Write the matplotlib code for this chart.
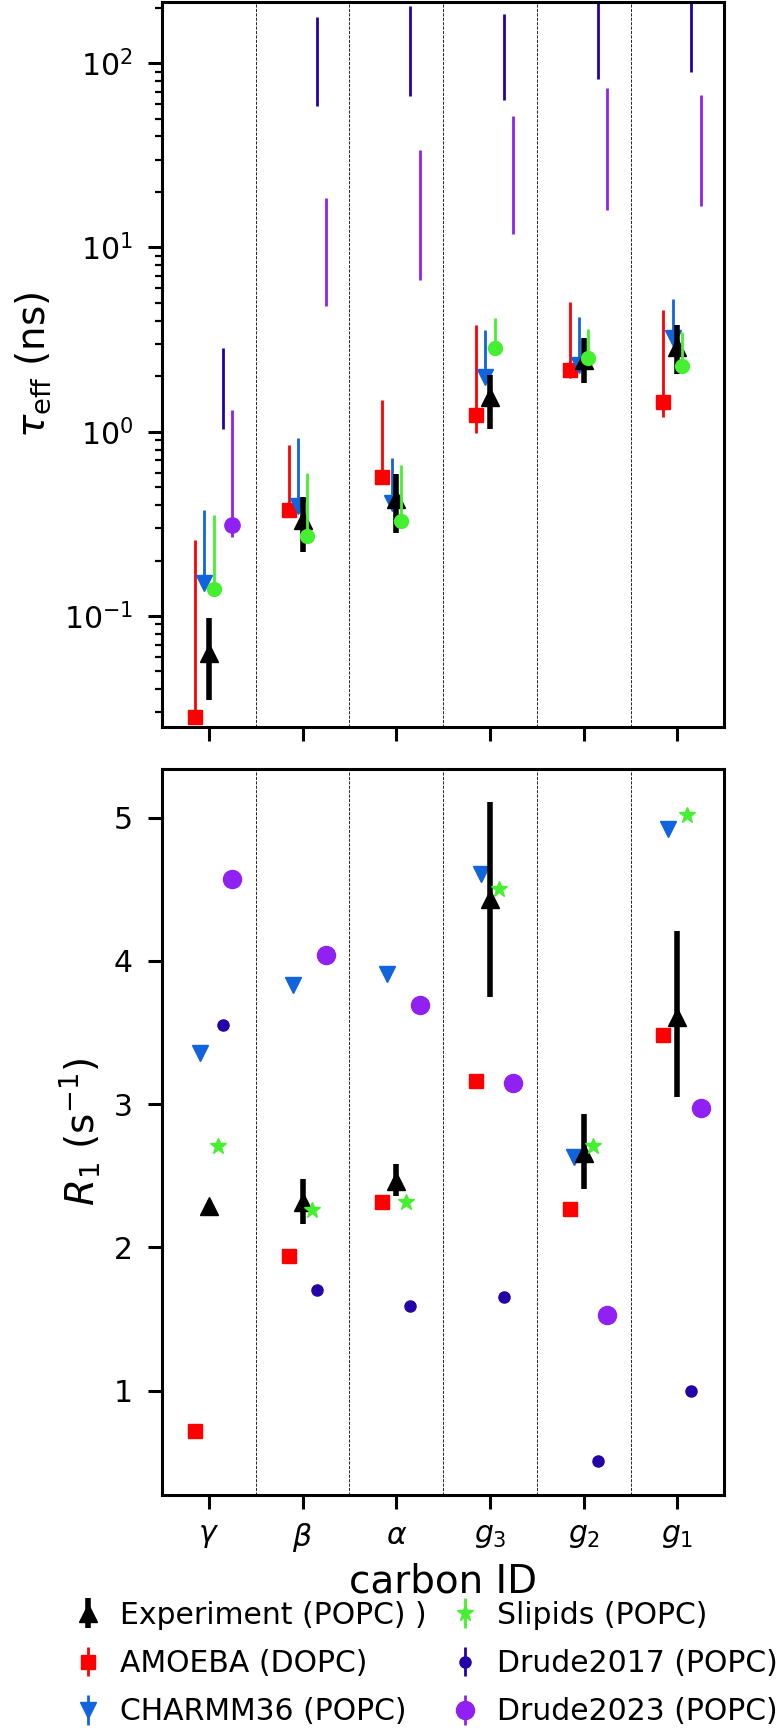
import numpy as np
import matplotlib
matplotlib.use("Agg")
import matplotlib.pyplot as plt

# carbon positions along the headgroup / glycerol backbone
CARBONS = [r"$\gamma$", r"$\beta$", r"$\alpha$", r"$g_3$", r"$g_2$", r"$g_1$"]

# ---- effective correlation times (ns): marker value, lower and upper end of bar
EXP_TAU = [0.063, 0.33, 0.43, 1.55, 2.45, 2.89]
EXP_TAU_LO = [0.035, 0.223, 0.281, 1.03, 1.83, 2.07]
EXP_TAU_HI = [0.097, 0.444, 0.589, 2.03, 3.21, 3.79]

AMOEBA_TAU = [0.0284, 0.376, 0.569, 1.23, 2.16, 1.45]
AMOEBA_TAU_LO = [0.0284, 0.36, 0.55, 0.986, 1.95, 1.20]
AMOEBA_TAU_HI = [0.258, 0.845, 1.48, 3.79, 5.07, 4.57]

CHARMM_TAU = [0.151, 0.394, 0.408, 1.99, 2.30, 3.21]
CHARMM_TAU_HI = [0.376, 0.927, 0.724, 3.56, 4.20, 5.24]

SLIPIDS_TAU = [0.141, 0.272, 0.329, 2.85, 2.52, 2.28]
SLIPIDS_TAU_HI = [0.352, 0.594, 0.659, 4.12, 3.63, 3.48]

DRUDE17_TAU_LO = [1.03, 58.4, 66.6, 63.0, 81.9, 89.0]
DRUDE17_TAU_HI = [2.85, 178.0, 204.0, 184.0, 250.0, 250.0]

DRUDE23_TAU = [0.311, np.nan, np.nan, np.nan, np.nan, np.nan]
DRUDE23_TAU_LO = [0.27, 4.80, 6.65, 11.8, 15.9, 16.8]
DRUDE23_TAU_HI = [1.31, 18.5, 34.0, 51.5, 72.9, 67.6]

# ---- spin-lattice relaxation rates R1 (1/s)
EXP_R1 = [2.29, 2.32, 2.46, 4.43, 2.66, 3.61]
EXP_R1_LO = [2.29, 2.16, 2.36, 3.75, 2.41, 3.05]
EXP_R1_HI = [2.29, 2.48, 2.58, 5.11, 2.93, 4.21]
AMOEBA_R1 = [0.72, 1.94, 2.32, 3.16, 2.27, 3.48]
CHARMM_R1 = [3.36, 3.83, 3.91, 4.61, 2.63, 4.92]
SLIPIDS_R1 = [2.71, 2.26, 2.32, 4.50, 2.71, 5.02]
DRUDE17_R1 = [3.55, 1.70, 1.59, 1.65, 0.51, 1.00]
DRUDE23_R1 = [4.57, 4.04, 3.69, 3.15, 1.53, 2.97]

RED = "#ff0000"
BLUE = "#1264dc"
GREEN = "#44f030"
DBLUE = "#2400a8"
PURPLE = "#9120f2"

FS = 21.5
plt.rcParams.update({
    "font.size": FS,
    "axes.linewidth": 2.2,
    "xtick.major.size": 10, "xtick.major.width": 2.2, "xtick.major.pad": 9,
    "ytick.major.size": 10, "ytick.major.width": 2.2, "ytick.major.pad": 11,
    "ytick.minor.size": 5, "ytick.minor.width": 1.6,
})

x = np.arange(len(CARBONS))

fig = plt.figure(figsize=(7.76, 17.28), dpi=100)
ax1 = fig.add_axes([0.2088, 0.5793, 0.7245, 0.4196])
ax2 = fig.add_axes([0.2088, 0.1348, 0.7245, 0.4201])


def asym(val, lo, hi):
    val, lo, hi = np.asarray(val), np.asarray(lo), np.asarray(hi)
    return [val - lo, hi - val]


# ---------------- top panel: tau_eff ----------------
ax1.errorbar(x, EXP_TAU, yerr=asym(EXP_TAU, EXP_TAU_LO, EXP_TAU_HI), fmt="^",
             color="k", ms=13, elinewidth=4, zorder=3)
ax1.errorbar(x - 0.15, AMOEBA_TAU, yerr=asym(AMOEBA_TAU, AMOEBA_TAU_LO, AMOEBA_TAU_HI),
             fmt="s", color=RED, ms=10, elinewidth=2)
ax1.errorbar(x - 0.05, CHARMM_TAU, yerr=asym(CHARMM_TAU, CHARMM_TAU, CHARMM_TAU_HI),
             fmt="v", color=BLUE, ms=11, elinewidth=2)
ax1.errorbar(x + 0.05, SLIPIDS_TAU, yerr=asym(SLIPIDS_TAU, SLIPIDS_TAU, SLIPIDS_TAU_HI),
             fmt="o", color=GREEN, ms=10, elinewidth=2, zorder=4)
ax1.vlines(x + 0.15, DRUDE17_TAU_LO, DRUDE17_TAU_HI, color=DBLUE, lw=2)
ax1.vlines(x + 0.25, DRUDE23_TAU_LO, DRUDE23_TAU_HI, color=PURPLE, lw=2)
ax1.plot(x + 0.25, DRUDE23_TAU, "o", color=PURPLE, ms=11)

ax1.set_yscale("log")
ax1.set_ylim(0.025, 215)
ax1.set_ylabel(r"$\tau_{\mathrm{eff}}$ (ns)", fontsize=28, labelpad=8)
ax1.set_xticks(x)
ax1.set_xticklabels([])

# ---------------- bottom panel: R1 ----------------
ax2.errorbar(x, EXP_R1, yerr=asym(EXP_R1, EXP_R1_LO, EXP_R1_HI), fmt="^",
             color="k", ms=13, elinewidth=4, zorder=3, label="Experiment (POPC) )")
ax2.errorbar(x - 0.15, AMOEBA_R1, yerr=0 * np.asarray(AMOEBA_R1), fmt="s", color=RED,
             ms=10, elinewidth=2, label="AMOEBA (DOPC)")
ax2.errorbar(x - 0.1, CHARMM_R1, yerr=0 * np.asarray(CHARMM_R1), fmt="v", color=BLUE,
             ms=11, elinewidth=2, label="CHARMM36 (POPC)")
ax2.errorbar(x + 0.1, SLIPIDS_R1, yerr=0 * np.asarray(SLIPIDS_R1), fmt="*", color=GREEN,
             ms=12, elinewidth=2, zorder=4, label="Slipids (POPC)")
ax2.errorbar(x + 0.15, DRUDE17_R1, yerr=0 * np.asarray(DRUDE17_R1), fmt="o", color=DBLUE,
             ms=8, elinewidth=2, label="Drude2017 (POPC)")
ax2.errorbar(x + 0.25, DRUDE23_R1, yerr=0 * np.asarray(DRUDE23_R1), fmt="o", color=PURPLE,
             ms=13, elinewidth=2, label="Drude2023 (POPC)")

ax2.set_ylim(0.27, 5.34)
ax2.set_yticks([1, 2, 3, 4, 5])
ax2.set_ylabel(r"$R_1$ (s$^{-1}$)", fontsize=28, labelpad=8)
ax2.set_xticks(x)
ax2.set_xticklabels(CARBONS)
ax2.set_xlabel("carbon ID", fontsize=28, labelpad=6)

for ax in (ax1, ax2):
    ax.set_xlim(-0.5, len(CARBONS) - 0.5)
    for b in x[:-1] + 0.5:
        ax.axvline(b, color="k", ls="--", lw=0.6, zorder=0)

handles, labels = ax2.get_legend_handles_labels()
fig.legend(handles, labels, ncol=2, loc="upper left", bbox_to_anchor=(0.079, 0.0805),
           frameon=False, fontsize=FS, handlelength=1.0, handletextpad=0.57,
           columnspacing=0.77, labelspacing=0.64, borderpad=0.4, borderaxespad=0)

fig.savefig("out.png", dpi=100)
